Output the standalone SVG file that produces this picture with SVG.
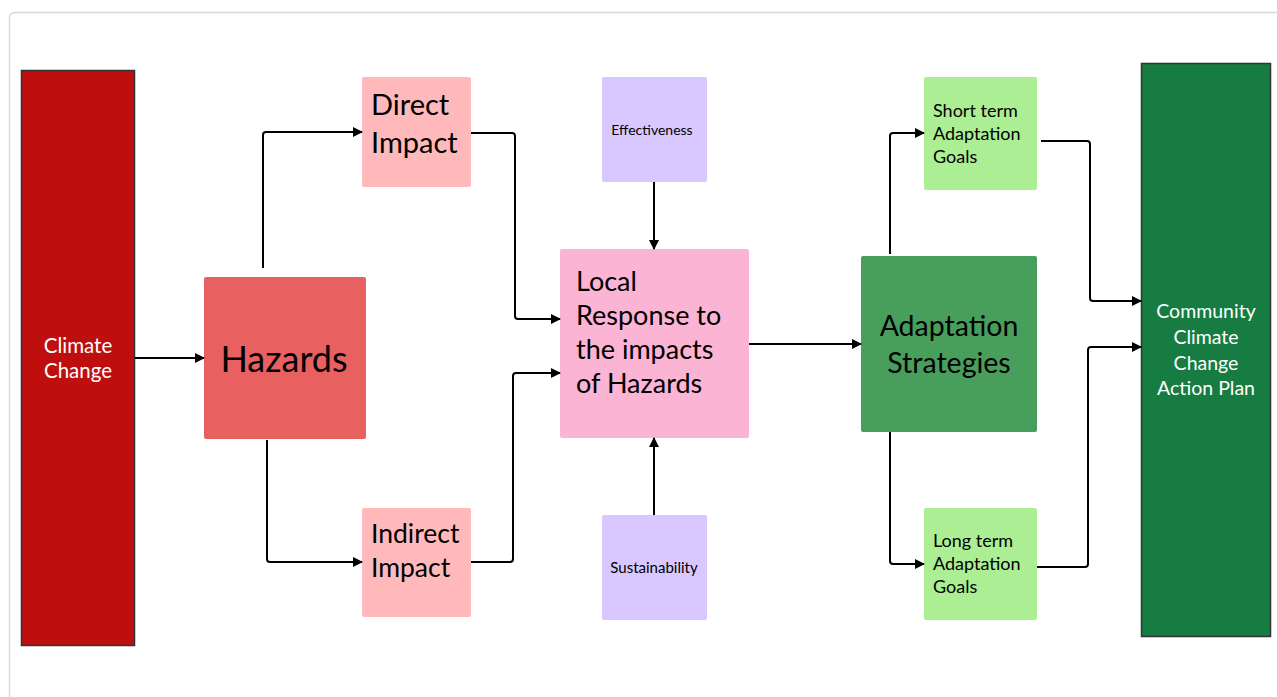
<svg xmlns="http://www.w3.org/2000/svg" width="1277" height="697" viewBox="0 0 1277 697">
<defs>
<marker id="ah" viewBox="0 0 10 10" refX="9" refY="5" markerWidth="5" markerHeight="5" markerUnits="strokeWidth" orient="auto">
<path d="M0,0 L10,5 L0,10 z" fill="#000"/>
</marker>
<style>
text{font-family:Lato,"Open Sans","Liberation Sans",sans-serif;}
.c{fill:none;stroke:#000;stroke-width:2;marker-end:url(#ah);stroke-linejoin:round;}
.dark{fill:#000;}
.wh{fill:#fff;}
</style>
</defs>
<rect x="0" y="0" width="1277" height="697" fill="#fff"/>
<path d="M9.5,697 L9.5,18 Q9.5,12.5 15,12.5 L1277,12.5" fill="none" stroke="#d9d9d9" stroke-width="1.5"/>
<g id="climate-change">
<rect x="21.5" y="70.5" width="113" height="575" fill="#bf0e0e" stroke="#333" stroke-width="1.5"/>
<text class="wh" x="78" y="353" font-size="20.5" text-anchor="middle">Climate</text>
<text class="wh" x="78" y="378" font-size="20.5" text-anchor="middle">Change</text>
</g>
<g id="hazards">
<rect x="204" y="277" width="162" height="162" rx="2" fill="#e96061"/>
<text class="dark" x="284" y="372" font-size="36" text-anchor="middle">Hazards</text>
</g>
<g id="direct-impact">
<rect x="362" y="77" width="109" height="110" rx="2" fill="#ffb9ba"/>
<text class="dark" x="371" y="115" font-size="29">Direct</text>
<text class="dark" x="371" y="153" font-size="29">Impact</text>
</g>
<g id="indirect-impact">
<rect x="362" y="508" width="109" height="109" rx="2" fill="#ffb9ba"/>
<text class="dark" x="371" y="543" font-size="26.5">Indirect</text>
<text class="dark" x="371" y="577" font-size="26.5">Impact</text>
</g>
<g id="effectiveness">
<rect x="602" y="77" width="105" height="105" rx="2" fill="#d9c8ff"/>
<text class="dark" x="652" y="135" font-size="14" text-anchor="middle">Effectiveness</text>
</g>
<g id="sustainability">
<rect x="602" y="515" width="105" height="105" rx="2" fill="#d9c8ff"/>
<text class="dark" x="654" y="573" font-size="15" text-anchor="middle">Sustainability</text>
</g>
<g id="local-response">
<rect x="560" y="249" width="189" height="189" rx="2" fill="#fbb4d4"/>
<text class="dark" x="576" y="291" font-size="27">Local</text>
<text class="dark" x="576" y="325" font-size="27">Response to</text>
<text class="dark" x="576" y="359" font-size="27">the impacts</text>
<text class="dark" x="576" y="393" font-size="27">of Hazards</text>
</g>
<g id="adaptation-strategies">
<rect x="861" y="256" width="176" height="176" rx="2" fill="#489f5c"/>
<text class="dark" x="949" y="336" font-size="28.5" text-anchor="middle">Adaptation</text>
<text class="dark" x="949" y="373" font-size="28.5" text-anchor="middle">Strategies</text>
</g>
<g id="short-term">
<rect x="924" y="77" width="113" height="113" rx="2" fill="#abee93"/>
<text class="dark" x="933" y="117" font-size="18">Short term</text>
<text class="dark" x="933" y="140" font-size="18">Adaptation</text>
<text class="dark" x="933" y="163" font-size="18">Goals</text>
</g>
<g id="long-term">
<rect x="924" y="508" width="113" height="112" rx="2" fill="#abee93"/>
<text class="dark" x="933" y="547" font-size="18">Long term</text>
<text class="dark" x="933" y="570" font-size="18">Adaptation</text>
<text class="dark" x="933" y="593" font-size="18">Goals</text>
</g>
<g id="community-plan">
<rect x="1141.5" y="63.5" width="129" height="573" fill="#167c42" stroke="#333" stroke-width="1.5"/>
<text class="wh" x="1206" y="318" font-size="19.5" text-anchor="middle">Community</text>
<text class="wh" x="1206" y="344" font-size="19.5" text-anchor="middle">Climate</text>
<text class="wh" x="1206" y="370" font-size="19.5" text-anchor="middle">Change</text>
<text class="wh" x="1206" y="395" font-size="19.5" text-anchor="middle">Action Plan</text>
</g>
<g id="connectors">
<path class="c" d="M135,358 L204,358"/>
<path class="c" d="M263,268 L263,135 Q263,132 266,132 L362,132"/>
<path class="c" d="M267,440 L267,559 Q267,562 270,562 L362,562"/>
<path class="c" d="M471,133 L512,133 Q515,133 515,136 L515,316 Q515,319 518,319 L560,319"/>
<path class="c" d="M471,562 L510,562 Q513,562 513,559 L513,376 Q513,373 516,373 L560,373"/>
<path class="c" d="M654,182 L654,249"/>
<path class="c" d="M654,515 L654,438"/>
<path class="c" d="M749,344 L861,344"/>
<path class="c" d="M890,254 L890,136 Q890,133 893,133 L924,133"/>
<path class="c" d="M890,432 L890,561 Q890,564 893,564 L924,564"/>
<path class="c" d="M1041,141 L1087,141 Q1090,141 1090,144 L1090,298 Q1090,301 1093,301 L1141,301"/>
<path class="c" d="M1037,567 L1085,567 Q1088,567 1088,564 L1088,350 Q1088,347 1091,347 L1141,347"/>
</g>
</svg>
